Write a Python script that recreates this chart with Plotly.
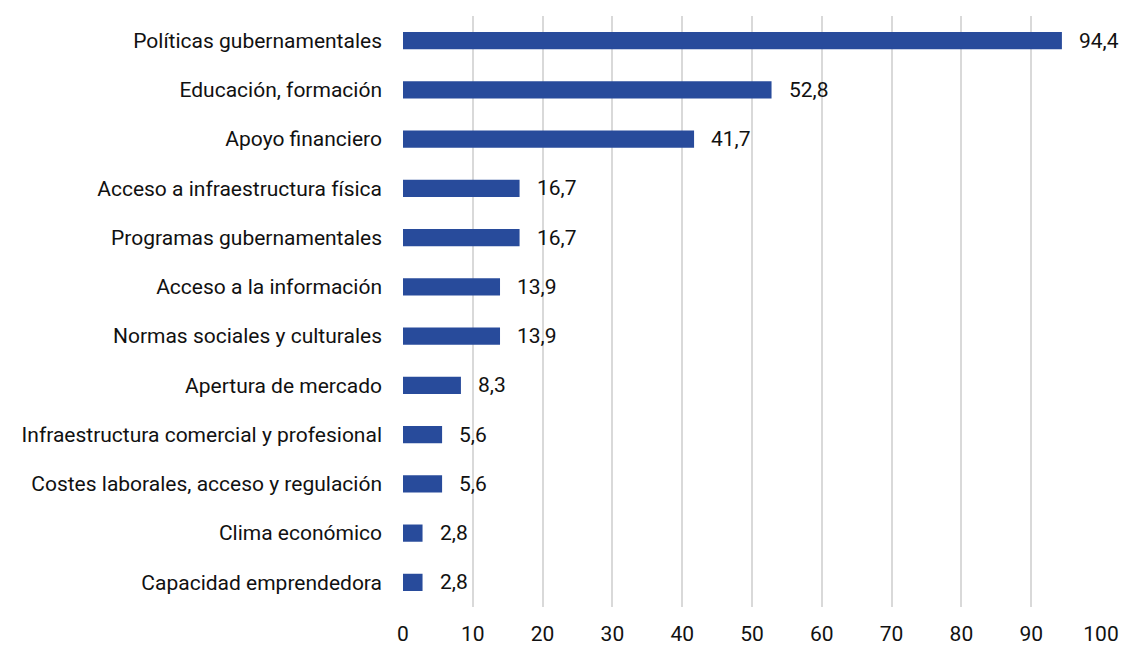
import plotly.graph_objects as go

categories = [
    "Políticas gubernamentales",
    "Educación, formación",
    "Apoyo financiero",
    "Acceso a infraestructura física",
    "Programas gubernamentales",
    "Acceso a la información",
    "Normas sociales y culturales",
    "Apertura de mercado",
    "Infraestructura comercial y profesional",
    "Costes laborales, acceso y regulación",
    "Clima económico",
    "Capacidad emprendedora",
]
values = [94.4, 52.8, 41.7, 16.7, 16.7, 13.9, 13.9, 8.3, 5.6, 5.6, 2.8, 2.8]
x_ticks = list(range(0, 101, 10))

BAR_COLOR = "#284b9b"
FONT = "Roboto"
FONT_SIZE = 21

fig = go.Figure(
    go.Bar(
        x=values,
        y=categories,
        orientation="h",
        marker=dict(color=BAR_COLOR, line=dict(width=0)),
        width=0.35,
        hoverinfo="skip",
    )
)

# value labels to the right of each bar, with a comma decimal separator
for cat, v in zip(categories, values):
    fig.add_annotation(
        x=v, y=cat, text=f"{v:.1f}".replace(".", ","),
        xanchor="left", yanchor="middle", xshift=15, showarrow=False,
        font=dict(family=FONT, size=FONT_SIZE, color="#111111"),
    )

fig.update_layout(
    width=1121, height=645,
    margin=dict(l=403, r=20, t=16, b=38),
    paper_bgcolor="white", plot_bgcolor="white",
    showlegend=False,
    font=dict(family=FONT, size=FONT_SIZE, color="#111111"),
    xaxis=dict(
        range=[0, 100], tickvals=x_ticks, ticktext=[str(t) for t in x_ticks],
        showgrid=True, gridcolor="#d9d9d9", gridwidth=2,
        zeroline=False, showline=False, ticks="", ticklabelstandoff=12,
        automargin=False, fixedrange=True,
    ),
    yaxis=dict(
        categoryorder="array", categoryarray=categories[::-1],
        showgrid=False, zeroline=False, showline=False, ticks="",
        ticklabelstandoff=20, automargin=False, fixedrange=True,
    ),
)

fig.write_html("out.html")
